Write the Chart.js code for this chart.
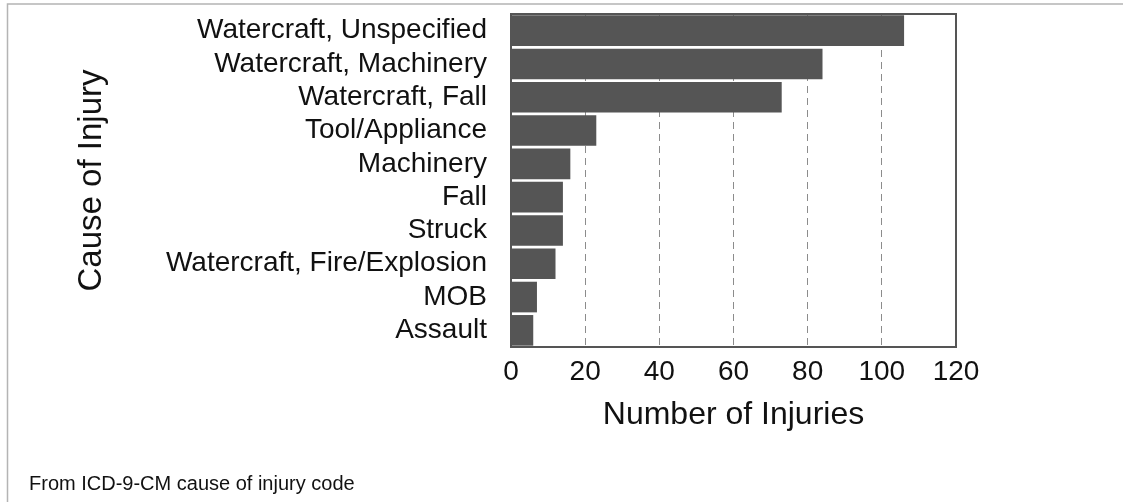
<!DOCTYPE html>
<html>
<head>
<meta charset="utf-8">
<title>Cause of Injury</title>
<script src="https://cdn.jsdelivr.net/npm/chart.js@4"></script>
<style>
  body { margin: 0; background: #fff; }
  #wrap { position: relative; width: 1123px; height: 502px; }
</style>
</head>
<body>
<div id="wrap"><canvas id="injury-chart"></canvas></div>
<script>
// chart data
const causes = ['Watercraft, Unspecified', 'Watercraft, Machinery', 'Watercraft, Fall', 'Tool/Appliance',
  'Machinery', 'Fall', 'Struck', 'Watercraft, Fire/Explosion', 'MOB', 'Assault'];
const injuries = [106, 84, 73, 23, 16, 14, 14, 12, 7, 6];
const xMin = 0;
const xMax = 120;
const xStep = 20;
const footnote = 'From ICD-9-CM cause of injury code';

const FONT = "'Liberation Sans', Arial, sans-serif";

// outer frame, plot box and footnote
const decorations = {
  id: 'decorations',
  beforeDraw(chart) {
    const ctx = chart.ctx;
    ctx.save();
    ctx.strokeStyle = '#b4b4b4';
    ctx.lineWidth = 1.5;
    ctx.beginPath();
    ctx.moveTo(7.5, chart.height);
    ctx.lineTo(7.5, 4);
    ctx.lineTo(chart.width, 4);
    ctx.stroke();
    ctx.restore();
  },
  afterDatasetsDraw(chart) {
    const { ctx, chartArea } = chart;
    ctx.save();
    ctx.strokeStyle = '#555555';
    ctx.lineWidth = 2;
    ctx.strokeRect(chartArea.left, chartArea.top, chartArea.right - chartArea.left, chartArea.bottom - chartArea.top);
    ctx.restore();
  },
  afterDraw(chart) {
    const ctx = chart.ctx;
    ctx.save();
    ctx.fillStyle = '#111';
    ctx.font = '20px ' + FONT;
    ctx.textBaseline = 'alphabetic';
    ctx.fillText(footnote, 29, 490);
    ctx.restore();
  }
};

const ctx = document.getElementById('injury-chart').getContext('2d');
new Chart(ctx, {
  type: 'bar',
  data: {
    labels: causes,
    datasets: [{
      label: 'Number of Injuries',
      data: injuries,
      backgroundColor: '#555555',
      borderWidth: 0,
      barPercentage: 0.92,
      categoryPercentage: 1.0
    }]
  },
  options: {
    indexAxis: 'y',
    responsive: true,
    maintainAspectRatio: false,
    animation: false,
    layout: { padding: { left: 0, top: 14, right: 167, bottom: 68 } },
    plugins: {
      legend: { display: false },
      tooltip: { enabled: false }
    },
    scales: {
      x: {
        min: xMin,
        max: xMax,
        afterFit(scale) { scale.height = 87; },
        ticks: {
          stepSize: xStep,
          padding: 8,
          color: '#111',
          font: { family: FONT, size: 28 }
        },
        grid: {
          drawTicks: false,
          color: '#8c8c8c',
          lineWidth: 1
        },
        border: { display: false, dash: [7, 5] },
        title: {
          display: true,
          text: 'Number of Injuries',
          color: '#111',
          padding: { top: 0, bottom: 0 },
          font: { family: FONT, size: 32 }
        }
      },
      y: {
        afterFit(scale) {
          scale.width = 511;
          scale.paddingTop = 0;
          scale.paddingBottom = 0;
        },
        ticks: {
          autoSkip: false,
          padding: 24,
          color: '#111',
          font: { family: FONT, size: 28 }
        },
        grid: { display: false, drawTicks: false },
        border: { display: false },
        title: {
          display: true,
          text: 'Cause of Injury',
          color: '#111',
          padding: { top: 72, bottom: 0 },
          font: { family: FONT, size: 33 }
        }
      }
    }
  },
  plugins: [decorations]
});
</script>
</body>
</html>
